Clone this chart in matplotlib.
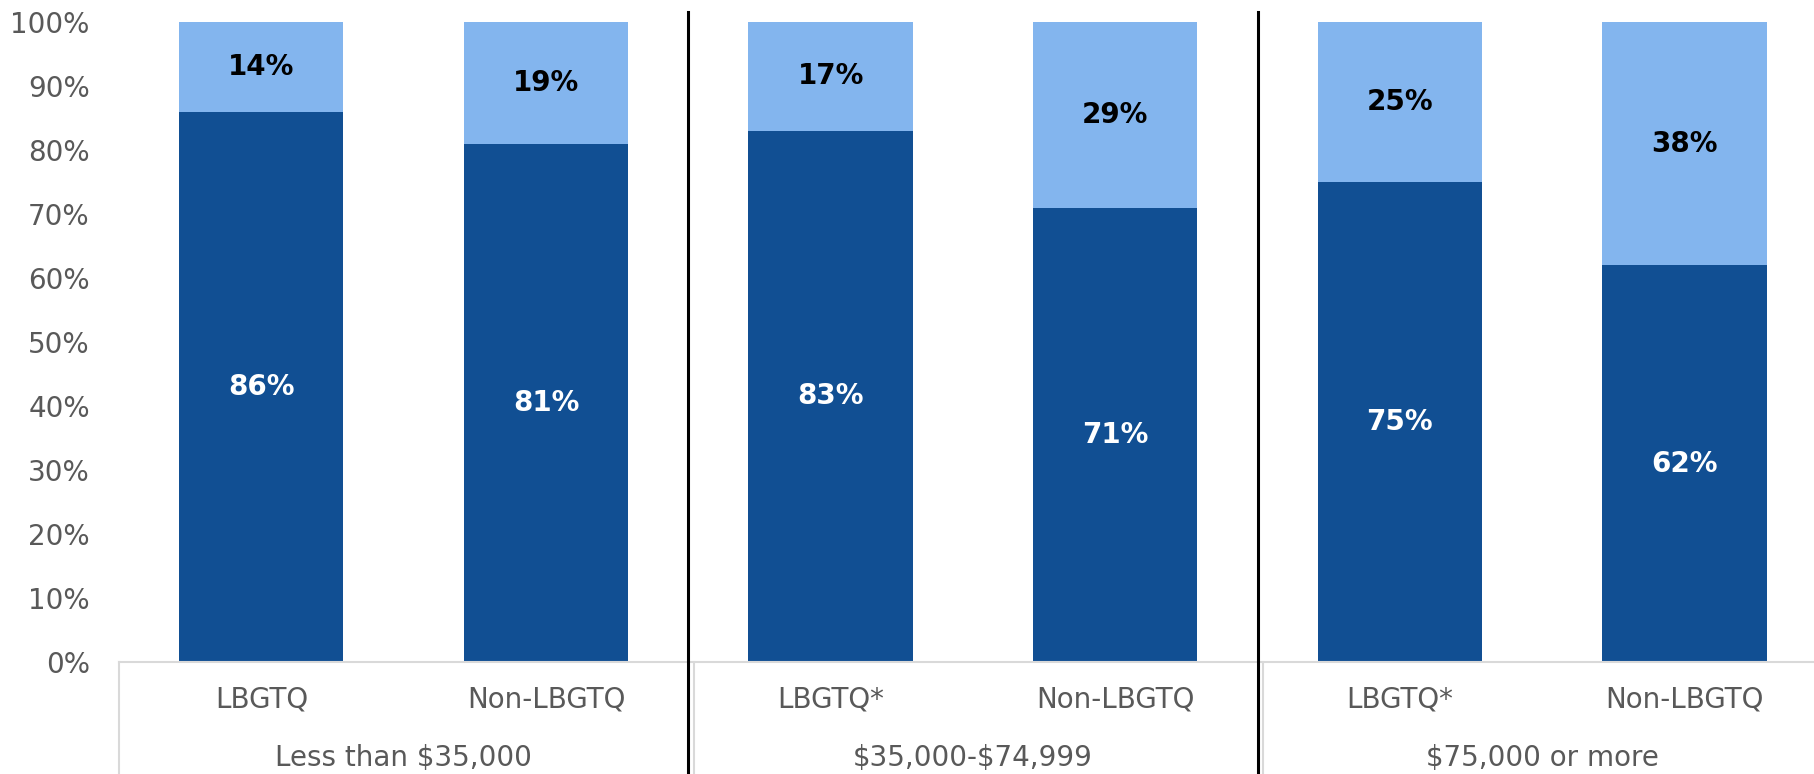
import matplotlib
matplotlib.use("Agg")
import matplotlib.pyplot as plt
import matplotlib.transforms as mtransforms
import numpy as np

plt.rcParams['font.family'] = ['DejaVu Sans']

categories = ["LBGTQ", "Non-LBGTQ", "LBGTQ*", "Non-LBGTQ", "LBGTQ*", "Non-LBGTQ"]
groups = [r"Less than \$35,000", r"\$35,000-\$74,999", r"\$75,000 or more"]
dark_vals = [86, 81, 83, 71, 75, 62]
light_vals = [14, 19, 17, 29, 25, 38]

dark_col = "#114F93"
light_col = "#83B5EE"
gray_txt = "#595959"

fig = plt.figure(figsize=(18.14, 7.74), dpi=100)
ax = fig.add_axes([0.0656, 0.1447, 0.9415, 0.8269])

x = np.arange(len(categories))
w = 0.577
d = np.array(dark_vals) / 100
l = np.array(light_vals) / 100
ax.bar(x, d, w, color=dark_col, zorder=2)
ax.bar(x, l, w, bottom=d, color=light_col, zorder=2)

for xi, dv, lv in zip(x, d, l):
    ax.text(xi, dv / 2, f"{int(round(dv*100))}%", ha="center", va="center",
            color="white", fontsize=20, fontweight="bold")
    ax.text(xi, dv + lv / 2, f"{int(round(lv*100))}%", ha="center", va="center",
            color="black", fontsize=20, fontweight="bold")

ax.set_xlim(-0.5, len(categories) - 0.5)
ax.set_ylim(0, 1)
ax.set_yticks(np.arange(0, 1.01, 0.1))
ax.set_yticklabels([f"{int(round(v*100))}%" for v in np.arange(0, 1.01, 0.1)])
ax.tick_params(axis="y", length=0, pad=21, labelsize=20, labelcolor=gray_txt)
ax.set_xticks([])
for s in ["top", "right", "left"]:
    ax.spines[s].set_visible(False)
ax.spines["bottom"].set_color("#D9D9D9")
ax.spines["bottom"].set_linewidth(1.5)

trans = mtransforms.blended_transform_factory(ax.transData, ax.transAxes)
for xi, c in zip(x, categories):
    ax.text(xi, -0.059, c, transform=trans, ha="center", va="center",
            fontsize=20, color=gray_txt)
for gi, g in enumerate(groups):
    ax.text(gi * 2 + 0.5, -0.15, g, transform=trans, ha="center", va="center",
            fontsize=20, color=gray_txt)

# box lines under the axis
ax.plot([-0.5, -0.5], [0, -0.3], transform=trans, color="#D9D9D9", lw=1.5, clip_on=False)
for xd in [1.5, 3.5]:
    ax.plot([xd + 0.02, xd + 0.02], [0, -0.3], transform=trans, color="#D9D9D9", lw=1.5, clip_on=False)
    ax.plot([xd, xd], [1.016, -0.3], transform=trans, color="black", lw=2.2, clip_on=False, zorder=3)

fig.savefig("out.png", dpi=100)
